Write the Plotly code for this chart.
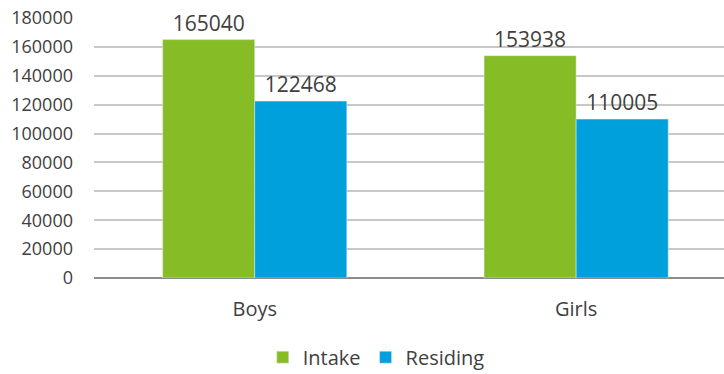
import plotly.graph_objects as go

categories = ["Boys", "Girls"]
intake = [165040, 153938]
residing = [122468, 110005]
y_ticks = [0, 20000, 40000, 60000, 80000, 100000, 120000, 140000, 160000, 180000]

font_family = "Open Sans, Liberation Sans, sans-serif"
text_color = "#404040"

fig = go.Figure()
fig.add_trace(go.Bar(
    x=categories, y=intake, name="Intake", marker_color="#86BC25",
    text=[str(v) for v in intake], textposition="outside", cliponaxis=False,
    textfont=dict(size=21, color=text_color, family=font_family),
))
fig.add_trace(go.Bar(
    x=categories, y=residing, name="Residing", marker_color="#00A0DD",
    text=[str(v) for v in residing], textposition="outside", cliponaxis=False,
    textfont=dict(size=21, color=text_color, family=font_family),
))

fig.update_layout(
    width=724, height=374, autosize=False,
    margin=dict(l=94, r=0, t=18, b=96),
    paper_bgcolor="white", plot_bgcolor="white",
    barmode="group", bargap=0.427, bargroupgap=0,
    font=dict(family=font_family, size=18, color=text_color),
    showlegend=True,
    legend=dict(orientation="h", x=0.448, xanchor="center",
                yref="container", y=0.045, yanchor="middle",
                font=dict(size=20, color=text_color), itemwidth=30),
    xaxis=dict(range=[-0.5, 1.46], showgrid=False, showline=False, ticks="",
               ticklabelstandoff=17,
               tickfont=dict(size=20, color=text_color)),
    yaxis=dict(range=[0, 180000], tickvals=y_ticks, ticktext=[str(v) for v in y_ticks],
               showgrid=True, gridcolor="#C8C8C8", gridwidth=1.5,
               zeroline=True, zerolinecolor="#8C8C8C", zerolinewidth=2,
               showline=False, ticks="", ticklabelstandoff=20,
               tickfont=dict(size=18, color=text_color)),
)

fig.write_html("out.html", config={"displayModeBar": False},
               post_script="document.body.style.margin='0';document.body.style.overflow='hidden';")
